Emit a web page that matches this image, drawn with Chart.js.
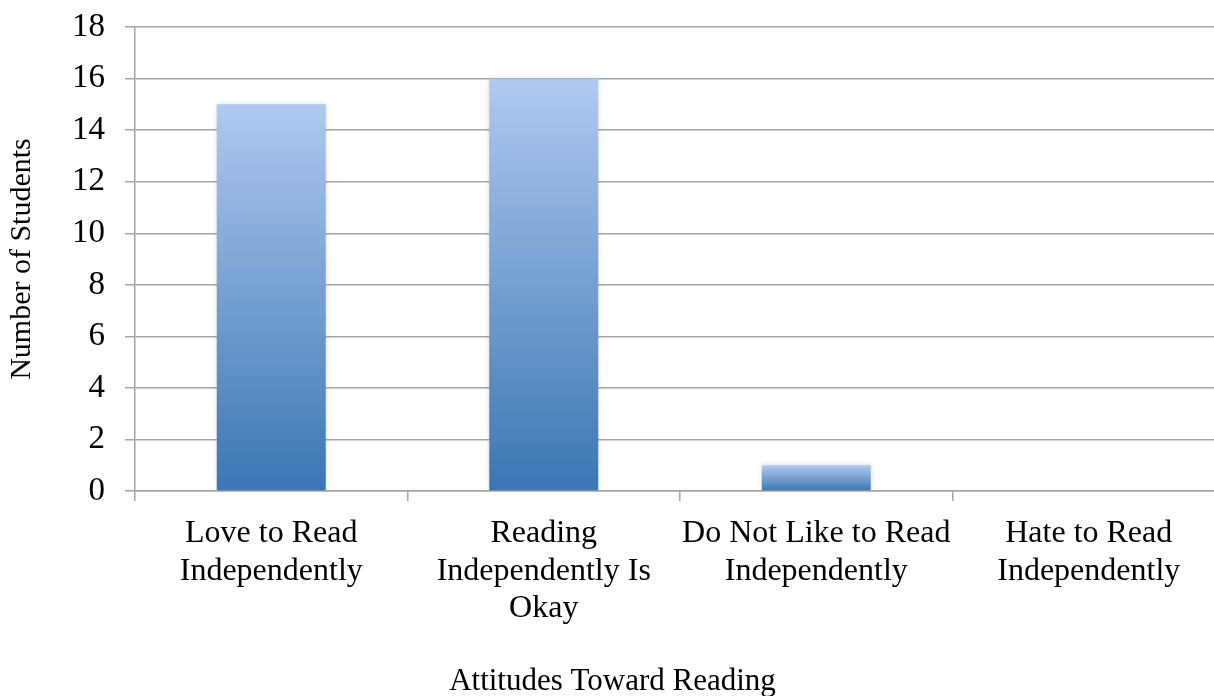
<!DOCTYPE html>
<html>
<head>
<meta charset="utf-8">
<script src="https://cdn.jsdelivr.net/npm/chart.js@4.4.1/dist/chart.umd.min.js"></script>
<style>
  html, body { margin: 0; padding: 0; background: #fff; overflow: hidden; }
  #wrap { position: relative; width: 1226px; height: 696px; }
</style>
</head>
<body>
<div id="wrap"><canvas id="chart"></canvas></div>
<script>
// Survey responses: attitudes toward independent reading
const categories = [
  ['Love to Read', 'Independently'],
  ['Reading', 'Independently Is', 'Okay'],
  ['Do Not Like to Read', 'Independently'],
  ['Hate to Read', 'Independently']
];
const studentCounts = [15, 16, 1, 0];
const yTicks = { min: 0, max: 18, step: 2 };

const FONT = "'Liberation Serif', 'Times New Roman', serif";
const GRID = '#a4a4a4';

// Vertical gradient per bar: light at the top, deep blue at the base
function barFill(ctx) {
  const chart = ctx.chart;
  const y = chart.scales && chart.scales.y;
  if (!chart.chartArea || !y || ctx.type !== 'data') return '#7aa2d8';
  const v = ctx.raw;
  const top = y.getPixelForValue(v);
  const base = y.getPixelForValue(0);
  if (Math.abs(base - top) < 1) return 'rgba(0,0,0,0)';
  const g = chart.ctx.createLinearGradient(0, top, 0, base);
  g.addColorStop(0, '#b0c9ef');
  g.addColorStop(1, '#3b76b3');
  return g;
}

// Soft drop shadow under the bars
const barShadow = {
  id: 'barShadow',
  beforeDatasetsDraw(chart) {
    const c = chart.ctx;
    c.save();
    c.shadowColor = 'rgba(0,0,0,0.18)';
    c.shadowBlur = 5;
    c.shadowOffsetX = 0;
    c.shadowOffsetY = 0;
  },
  afterDatasetsDraw(chart) { chart.ctx.restore(); }
};

new Chart(document.getElementById('chart'), {
  type: 'bar',
  data: {
    labels: categories,
    datasets: [{
      data: studentCounts,
      backgroundColor: barFill,
      borderWidth: 0,
      barPercentage: 0.4,
      categoryPercentage: 1.0
    }]
  },
  plugins: [barShadow],
  options: {
    responsive: true,
    maintainAspectRatio: false,
    animation: false,
    layout: { padding: { top: 27, right: 1, bottom: 0, left: 0 } },
    plugins: {
      legend: { display: false },
      tooltip: { enabled: false },
      title: {
        display: true,
        position: 'bottom',
        text: 'Attitudes Toward Reading',
        color: '#000',
        font: { family: FONT, size: 31, weight: 'normal', lineHeight: 0.9 },
        padding: { top: 0, bottom: 0 }
      }
    },
    scales: {
      x: {
        offset: true,
        grid: {
          offset: true,
          drawOnChartArea: false,
          drawTicks: true,
          tickLength: 10,
          color: GRID,
          lineWidth: 1.5
        },
        border: { display: true, color: GRID, width: 1.5 },
        ticks: {
          color: '#000',
          font: { family: FONT, size: 32, lineHeight: 1.17 },
          padding: 14,
          maxRotation: 0,
          autoSkip: false
        },
        afterFit(scale) { scale.height = 177; }
      },
      y: {
        min: yTicks.min,
        max: yTicks.max,
        grid: {
          color: GRID,
          lineWidth: 1.5,
          drawTicks: true,
          tickLength: 10
        },
        border: { display: true, color: GRID, width: 1.5 },
        ticks: {
          stepSize: yTicks.step,
          color: '#000',
          font: { family: FONT, size: 33 },
          padding: 20
        },
        title: {
          display: true,
          text: 'Number of Students',
          color: '#000',
          font: { family: FONT, size: 30, lineHeight: 1 },
          padding: { top: 7, bottom: 0 }
        },
        afterFit(scale) {
          scale.width = 135;
          // the layout padding already leaves room for the end labels
          scale.paddingTop = 0;
          scale.paddingBottom = 0;
        }
      }
    }
  }
});
</script>
</body>
</html>
